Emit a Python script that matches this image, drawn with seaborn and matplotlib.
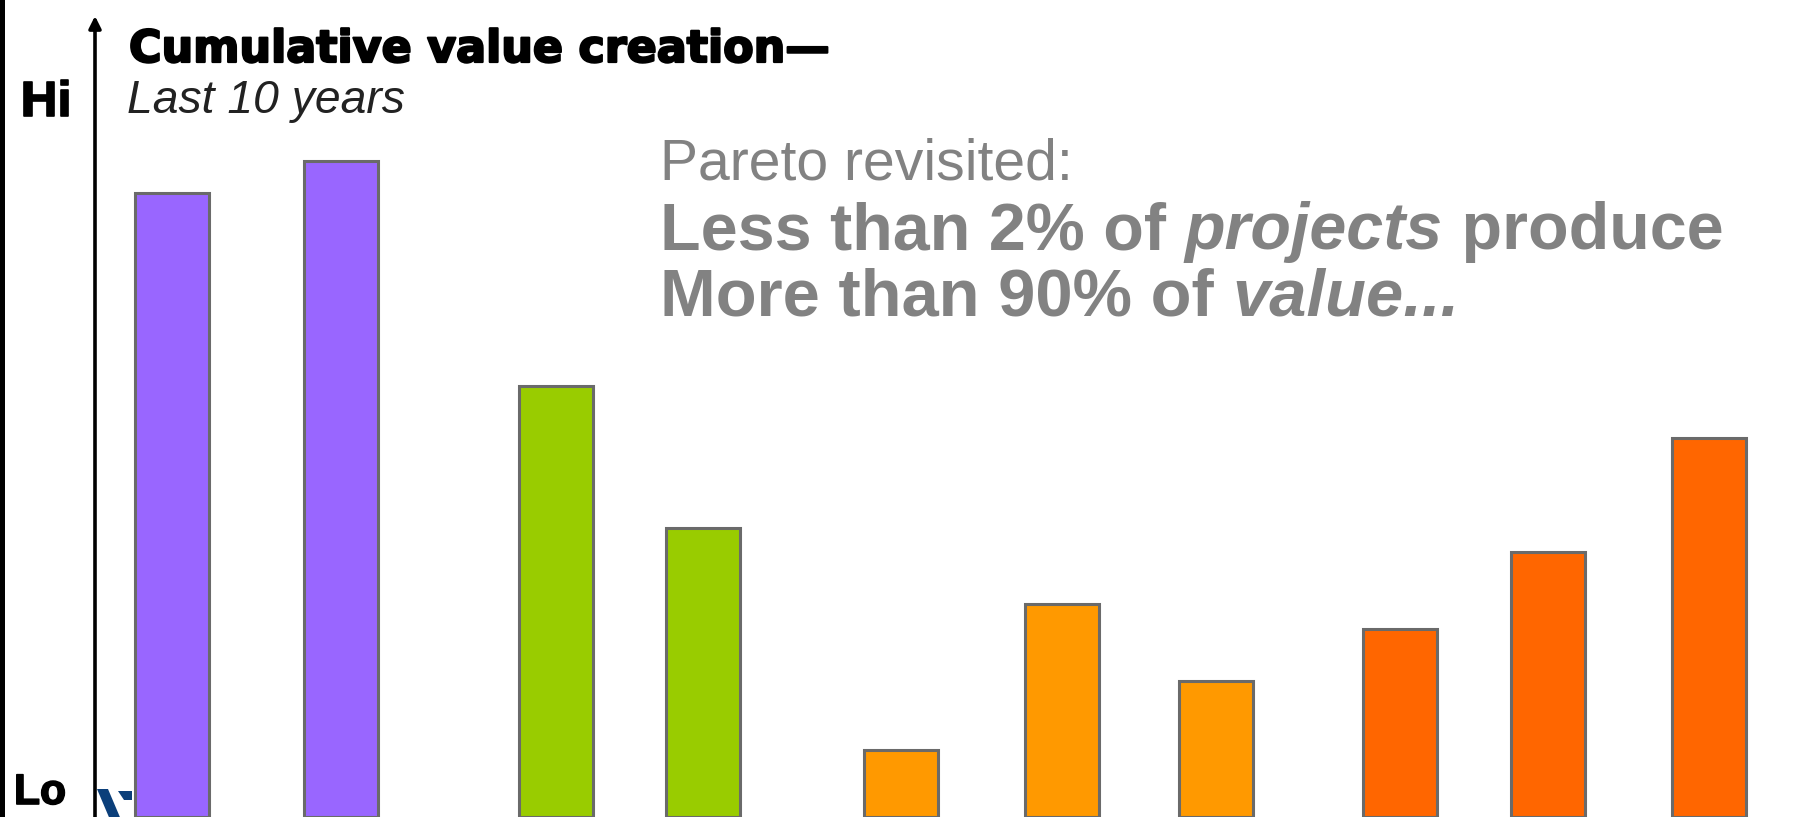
import numpy as np
import pandas as pd
import matplotlib
matplotlib.use("Agg")
import matplotlib.pyplot as plt
import matplotlib.patheffects as pe
from matplotlib.patches import Rectangle, Polygon
import seaborn as sns

# ---- data ----
projects = ["P1", "P2", "P3", "P4", "P5", "P6", "P7", "P8", "P9", "P10"]
groups = ["A", "A", "B", "B", "C", "C", "C", "D", "D", "D"]
values = [89.1, 93.7, 61.5, 41.3, 9.6, 30.4, 19.4, 26.9, 37.9, 54.1]
# layout slots (x placement of each bar, hand-spaced as in the reference)
slots = [0.0, 1.0, 2.272, 3.142, 4.314, 5.266, 6.178, 7.266, 8.142, 9.095]

palette = {"A": "#9966FF", "B": "#99CC00", "C": "#FF9900", "D": "#FF6600"}

W, H = 1814, 817
sns.set_theme(style="white")
plt.rcParams["font.family"] = ["Liberation Sans", "DejaVu Sans"]

fig = plt.figure(figsize=(W / 100, H / 100), dpi=100)
fig.patch.set_facecolor("white")
ax = fig.add_axes([0, 0, 1, 1])
ax.set_facecolor("none")

df = pd.DataFrame({"slot": slots, "value": values, "group": groups, "project": projects})
bar_w = 0.441
min_gap = np.min(np.diff(sorted(slots)))
sns.barplot(data=df, x="slot", y="value", hue="group", palette=palette,
            native_scale=True, width=bar_w / min_gap, legend=False, saturation=1,
            edgecolor="#6a6a6a", linewidth=2.2, ax=ax, zorder=2)

ax.set_xlim(-172 / 169, (W - 172) / 169)
ax.set_ylim(0, H / 7)
for s in ax.spines.values():
    s.set_visible(False)
ax.set_xticks([])
ax.set_yticks([])
ax.set_xlabel("")
ax.set_ylabel("")

# black stripe on the left edge
fig.patches.append(Rectangle((0, 0), 5 / W, 1, transform=fig.transFigure,
                             facecolor="black", edgecolor="none", zorder=5))

# partial logo mark near the bottom (cut off by the frame)
def fpt(x, y):
    return (x / W, 1 - y / H)

ax.add_patch(Polygon([fpt(97, 789), fpt(108, 789), fpt(122, 822), fpt(111, 822)],
                     closed=True, transform=fig.transFigure, facecolor="#0b3f7a",
                     edgecolor="none", zorder=1, clip_on=False))
ax.add_patch(Polygon([fpt(118, 791), fpt(132, 791), fpt(132, 800), fpt(124, 800)],
                     closed=True, transform=fig.transFigure, facecolor="#0b3f7a",
                     edgecolor="none", zorder=1, clip_on=False))

# vertical axis arrow
ax.annotate("", xy=(95 / W, 1 - 16 / H), xytext=(95 / W, 0), xycoords="figure fraction",
            textcoords="figure fraction",
            arrowprops=dict(arrowstyle="-|>", lw=2.6, color="black", mutation_scale=18,
                            shrinkA=0, shrinkB=0))

renderer = fig.canvas.get_renderer()


def place(pieces, x_px, base_px, target_w, color, family, effects=None):
    fs = 30.0
    for _ in range(2):
        arts = []
        x = x_px
        for txt, kw in pieces:
            t = fig.text(x / W, 1 - base_px / H, txt, fontsize=fs, color=color,
                         family=family, ha="left", va="baseline", **kw)
            bb = t.get_window_extent(renderer)
            x = bb.x1
            arts.append(t)
        total = x - x_px
        for a in arts:
            a.remove()
        fs = fs * target_w / total
    x = x_px
    for txt, kw in pieces:
        t = fig.text(x / W, 1 - base_px / H, txt, fontsize=fs, color=color,
                     family=family, ha="left", va="baseline", **kw)
        if effects:
            t.set_path_effects(effects)
        x = t.get_window_extent(renderer).x1
    return fs


heavy = [pe.withStroke(linewidth=1.6, foreground="black")]
place([("Cumulative value creation\u2014", dict(fontweight="bold"))], 129, 62, 700, "black",
      ["DejaVu Sans"], heavy)
place([("Last 10 years", dict(style="italic"))], 127, 113, 278, "#222222",
      ["Liberation Sans", "DejaVu Sans"])
place([("Hi", dict(fontweight="bold"))], 21, 116, 50, "black", ["Liberation Sans"],
      [pe.withStroke(linewidth=1.2, foreground="black")])
place([("Lo", dict(fontweight="bold"))], 14, 804, 52, "black", ["Liberation Sans"],
      [pe.withStroke(linewidth=1.2, foreground="black")])

grey = "#828282"
place([("Pareto revisited:", {})], 660, 180, 413, grey, ["Liberation Sans"])
place([("Less than 2% of ", dict(fontweight="bold")),
       ("projects", dict(fontweight="bold", style="italic")),
       (" produce", dict(fontweight="bold"))], 660, 249, 1061, grey, ["Liberation Sans"])
place([("More than 90% of ", dict(fontweight="bold")),
       ("value...", dict(fontweight="bold", style="italic"))], 660, 315, 800, grey,
      ["Liberation Sans"])

fig.savefig("out.png", dpi=100, facecolor="white")
